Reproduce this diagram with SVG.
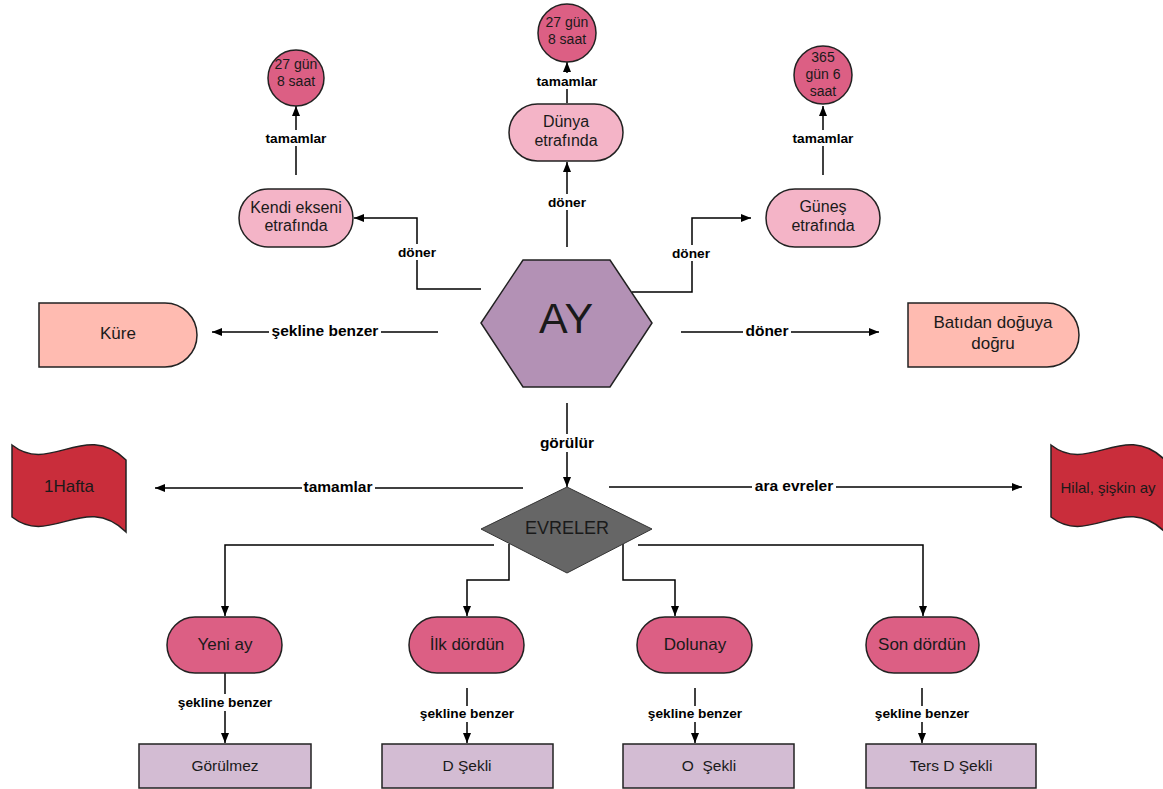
<svg xmlns="http://www.w3.org/2000/svg" width="1163" height="789" viewBox="0 0 1163 789">
<defs>
<marker id="ah" markerWidth="10" markerHeight="8" refX="10" refY="4" orient="auto" markerUnits="userSpaceOnUse"><path d="M0,0 L10,4 L0,8 z" fill="#000"/></marker>
</defs>
<style>
.t{font-family:"Liberation Sans",Arial,sans-serif;fill:#1a1a1a;text-anchor:middle}
.lbl{font-family:"Liberation Sans",Arial,sans-serif;font-weight:bold;font-size:13.7px;fill:#000;text-anchor:middle}
.lbl2{font-family:"Liberation Sans",Arial,sans-serif;font-weight:bold;font-size:15.5px;fill:#000;text-anchor:middle}
.ln{fill:none;stroke:#000;stroke-width:1.5}
.ar{marker-end:url(#ah)}
.bg{fill:#fff}
.pk{fill:#f4b4c7;stroke:#222;stroke-width:1.5}
.rd{fill:#dc5f84;stroke:#222;stroke-width:1.5}
.sal{fill:#ffbbb1;stroke:#222;stroke-width:1.5}
.flag{fill:#c92d3b;stroke:#222;stroke-width:1.5}
.lil{fill:#d3bcd3;stroke:#222;stroke-width:1.5}
</style>
<rect width="1163" height="789" fill="#fff"/>

<g id="connectors">
<polyline class="ln ar" points="481,289 417,289 417,218 354,218"/>
<line class="ln ar" x1="567" y1="247" x2="567" y2="162"/>
<line class="ln ar" x1="567" y1="103" x2="567" y2="62"/>
<line class="ln ar" x1="296" y1="175" x2="296" y2="106"/>
<line class="ln ar" x1="823" y1="175" x2="823" y2="106"/>
<polyline class="ln ar" points="632,292 692,292 692,218 751,218"/>
<line class="ln ar" x1="438" y1="332" x2="212" y2="332"/>
<line class="ln ar" x1="681" y1="332" x2="879" y2="332"/>
<line class="ln ar" x1="567" y1="403" x2="567" y2="487"/>
<line class="ln ar" x1="523" y1="488" x2="155" y2="488"/>
<line class="ln ar" x1="609" y1="487" x2="1022" y2="487"/>
<polyline class="ln ar" points="494,545 225,545 225,616"/>
<polyline class="ln ar" points="509,544 509,580 467,580 467,616"/>
<polyline class="ln ar" points="623,544 623,580 675,580 675,616"/>
<polyline class="ln ar" points="638,545 923,545 923,616"/>
<line class="ln ar" x1="225" y1="673" x2="225" y2="743"/>
<line class="ln ar" x1="467" y1="688" x2="467" y2="743"/>
<line class="ln ar" x1="695" y1="688" x2="695" y2="743"/>
<line class="ln ar" x1="922" y1="688" x2="922" y2="743"/>

<rect class="bg" x="396" y="244" width="42" height="16"/>
<text class="lbl" x="417" y="257">döner</text>
<rect class="bg" x="546" y="194" width="42" height="16"/>
<text class="lbl" x="567" y="207">döner</text>
<rect class="bg" x="670" y="245" width="42" height="16"/>
<text class="lbl" x="691" y="258">döner</text>
<rect class="bg" x="263" y="130" width="66" height="16"/>
<text class="lbl" x="296" y="143">tamamlar</text>
<rect class="bg" x="534" y="73" width="66" height="16"/>
<text class="lbl" x="567" y="86">tamamlar</text>
<rect class="bg" x="790" y="130" width="66" height="16"/>
<text class="lbl" x="823" y="143">tamamlar</text>
<rect class="bg" x="269" y="321" width="112" height="18"/>
<text class="lbl2" x="325" y="336">şekline benzer</text>
<rect class="bg" x="743" y="321" width="48" height="18"/>
<text class="lbl2" x="767" y="336">döner</text>
<rect class="bg" x="538" y="434" width="58" height="18"/>
<text class="lbl2" x="567" y="448">görülür</text>
<rect class="bg" x="302" y="478" width="73" height="18"/>
<text class="lbl2" x="338" y="492">tamamlar</text>
<rect class="bg" x="752" y="477" width="84" height="18"/>
<text class="lbl2" x="794" y="491">ara evreler</text>
<rect class="bg" x="173" y="694" width="104" height="17"/>
<text class="lbl" x="225" y="707">şekline benzer</text>
<rect class="bg" x="415" y="706" width="104" height="16"/>
<text class="lbl" x="467" y="718">şekline benzer</text>
<rect class="bg" x="643" y="706" width="104" height="16"/>
<text class="lbl" x="695" y="718">şekline benzer</text>
<rect class="bg" x="870" y="706" width="104" height="16"/>
<text class="lbl" x="922" y="718">şekline benzer</text>
</g>

<g id="ay">
<polygon points="481,323 523,260 610,260 652,323 610,387 523,387" fill="#b391b5" stroke="#222" stroke-width="1.5"/>
<text class="t" x="566" y="333" font-size="43" fill="#111">AY</text>
</g>
<g id="kendi">
<rect class="pk" x="239" y="189" width="114" height="58" rx="29"/>
<text class="t" x="296" y="213" font-size="16">Kendi ekseni</text>
<text class="t" x="296" y="231" font-size="16">etrafında</text>
</g>
<g id="dunya">
<rect class="pk" x="509" y="104" width="114" height="57" rx="28.5"/>
<text class="t" x="566" y="127" font-size="16">Dünya</text>
<text class="t" x="566" y="146" font-size="16">etrafında</text>
</g>
<g id="gunes">
<rect class="pk" x="766" y="189" width="114" height="58" rx="29"/>
<text class="t" x="823" y="212" font-size="16">Güneş</text>
<text class="t" x="823" y="231" font-size="16">etrafında</text>
</g>
<g id="c-kendi">
<circle class="rd" cx="296" cy="78" r="28"/>
<text class="t" x="296" y="69" font-size="14">27 gün</text>
<text class="t" x="296" y="86" font-size="14">8 saat</text>
</g>
<g id="c-dunya">
<circle class="rd" cx="567" cy="33" r="29"/>
<text class="t" x="567" y="27" font-size="14">27 gün</text>
<text class="t" x="567" y="44" font-size="14">8 saat</text>
</g>
<g id="c-gunes">
<circle class="rd" cx="823" cy="75" r="29"/>
<text class="t" x="823" y="62" font-size="14">365</text>
<text class="t" x="823" y="79" font-size="14">gün 6</text>
<text class="t" x="823" y="96" font-size="14">saat</text>
</g>
<g id="kure">
<path class="sal" d="M39,303 H165 A32,32 0 0 1 165,367 H39 Z"/>
<text class="t" x="118" y="339" font-size="17">Küre</text>
</g>
<g id="batidan">
<path class="sal" d="M908,303 H1047 A32,32 0 0 1 1047,367 H908 Z"/>
<text class="t" x="993" y="328" font-size="17">Batıdan doğuya</text>
<text class="t" x="993" y="349" font-size="17">doğru</text>
</g>
<g id="evreler">
<polygon points="567,487 652,529 567,573 481,529" fill="#666" stroke="#333" stroke-width="1"/>
<text class="t" x="567" y="534" font-size="18" fill="#222">EVRELER</text>
</g>
<g id="hafta">
<path class="flag" d="M12,445 C50,475 85,420 126,460 L126,532 C85,492 50,547 12,517 Z"/>
<text class="t" x="69" y="492" font-size="17">1Hafta</text>
</g>
<g id="hilal">
<path class="flag" d="M1051,445 C1089,475 1124,420 1165,460 L1165,532 C1124,492 1089,547 1051,517 Z"/>
<text class="t" x="1108" y="493" font-size="15">Hilal, şişkin ay</text>
</g>
<g id="yeniay">
<rect class="rd" x="167" y="617" width="115" height="56" rx="28"/>
<text class="t" x="225" y="650" font-size="17">Yeni ay</text>
</g>
<g id="ilk">
<rect class="rd" x="409" y="617" width="115" height="56" rx="28"/>
<text class="t" x="467" y="650" font-size="17">İlk dördün</text>
</g>
<g id="dolunay">
<rect class="rd" x="637" y="617" width="115" height="56" rx="28"/>
<text class="t" x="695" y="650" font-size="17">Dolunay</text>
</g>
<g id="son">
<rect class="rd" x="866" y="617" width="113" height="56" rx="28"/>
<text class="t" x="922" y="650" font-size="17">Son dördün</text>
</g>
<g id="gorulmez">
<rect class="lil" x="139" y="744" width="172" height="44"/>
<text class="t" x="225" y="771" font-size="15.5">Görülmez</text>
</g>
<g id="dsekli">
<rect class="lil" x="382" y="744" width="171" height="44"/>
<text class="t" x="467" y="771" font-size="15.5">D Şekli</text>
</g>
<g id="osekli">
<rect class="lil" x="623" y="744" width="171" height="44"/>
<text class="t" x="709" y="771" font-size="15.5" xml:space="preserve">O  Şekli</text>
</g>
<g id="ters">
<rect class="lil" x="866" y="744" width="170" height="44"/>
<text class="t" x="951" y="771" font-size="15.5">Ters D Şekli</text>
</g>
</svg>
